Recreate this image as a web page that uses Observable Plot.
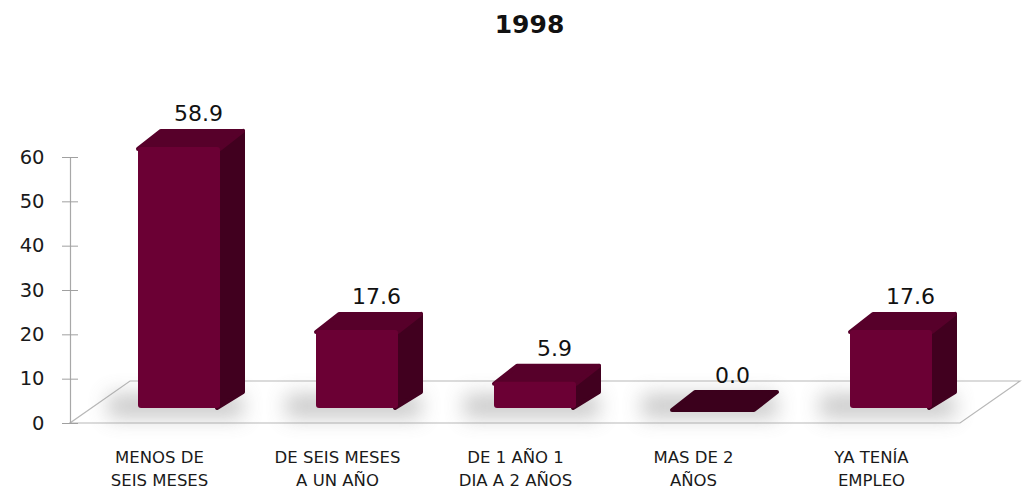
<!DOCTYPE html>
<html><head><meta charset="utf-8">
<script src="https://cdn.jsdelivr.net/npm/d3@7"></script>
<script src="https://cdn.jsdelivr.net/npm/@observablehq/plot@0.6"></script>
<style>body{margin:0;background:#fff;overflow:hidden}</style>
</head><body><div id="chart"></div>
<script>
const categories = ["MENOS DE\nSEIS MESES", "DE SEIS MESES\nA UN AÑO", "DE 1 AÑO 1\nDIA A 2 AÑOS", "MAS DE 2\nAÑOS", "YA TENÍA\nEMPLEO"];
const values = [58.9, 17.6, 5.9, 0.0, 17.6];
const yTicks = [0, 10, 20, 30, 40, 50, 60];
const title = ["1998"];

const data = categories.map((c, i) => ({cat: c, value: values[i]}));

const FRONT_DX = 20, FRONT_DY = -15, DX = 23, DY = 16;
const FLOOR_X = 60, FLOOR_Y = 42;
const FRONT = "#6b0034", SIDE = "#41001f", TOP = "#57002a", FLAT = "#3b001c";
const FONT = "'DejaVu Sans', Verdana, sans-serif";

function floor(index, scales, vals, dim) {
  const x0 = dim.marginLeft, x1 = dim.width - dim.marginRight, y0 = dim.height - dim.marginBottom;
  const g = d3.create("svg:g");
  g.append("path")
    .attr("d", `M${x0},${y0}L${x1},${y0}L${x1 + FLOOR_X},${y0 - FLOOR_Y}L${x0 + FLOOR_X},${y0 - FLOOR_Y}Z`)
    .attr("fill", "#fff").attr("stroke", "#b8b8b8").attr("stroke-width", 1.2);
  return g.node();
}

function shadows(index, scales) {
  const {x, y} = scales, bw = x.bandwidth();
  const g = d3.create("svg:g");
  const f = g.append("defs").append("filter").attr("id", "blurShadow")
    .attr("x", "-50%").attr("y", "-100%").attr("width", "200%").attr("height", "300%");
  f.append("feGaussianBlur").attr("stdDeviation", 10);
  data.forEach(d => {
    const xl = x(d.cat) + FRONT_DX, yb = y(0) + FRONT_DY;
    g.append("rect")
      .attr("x", xl - 30).attr("y", yb - 14)
      .attr("width", bw + DX + 30).attr("height", 24)
      .attr("fill", "#8a8a8a").attr("opacity", 0.45)
      .attr("filter", "url(#blurShadow)");
  });
  return g.node();
}

function boxes(index, scales) {
  const {x, y} = scales, bw = x.bandwidth();
  const g = d3.create("svg:g");
  data.forEach(d => {
    const xl = x(d.cat) + FRONT_DX, xr = xl + bw;
    const yb = y(0) + FRONT_DY, yt = y(d.value) + FRONT_DY;
    if (yb - yt > 0.5) {
      g.append("path")
        .attr("d", `M${xr - 3},${yt}L${xr + DX},${yt - DY}L${xr + DX},${yb - DY}L${xr - 3},${yb}Z`)
        .attr("fill", SIDE).attr("stroke", SIDE).attr("stroke-linejoin", "round").attr("stroke-width", 4);
    }
    g.append("path")
      .attr("d", `M${xl},${yt + 2}L${xl + DX},${yt - DY}L${xr + DX},${yt - DY}L${xr},${yt + 2}Z`)
      .attr("fill", d.value > 0 ? TOP : FLAT)
      .attr("stroke", d.value > 0 ? TOP : FLAT).attr("stroke-linejoin", "round").attr("stroke-width", 4);
  });
  return g.node();
}

const chart = Plot.plot({
  width: 1024,
  height: 492,
  marginTop: 157,
  marginBottom: 69,
  marginLeft: 70,
  marginRight: 64,
  style: {fontFamily: FONT, background: "#fff"},
  x: {type: "band", domain: categories, paddingInner: 0.54, paddingOuter: 0.27, label: null},
  y: {domain: [0, 60], label: null},
  marks: [
    floor,
    shadows,
    Plot.frame({anchor: "left", stroke: "#a8a8a8", strokeWidth: 1.2}),
    Plot.axisY(yTicks, {tickSize: 16, dx: 8, tickPadding: 18, fontSize: 19.5, stroke: "#a0a0a0", fill: "#1a1a1a", label: null}),
    Plot.axisX({tickSize: 0, tickPadding: 24, fontSize: 16.5, lineHeight: 1.35, fill: "#1a1a1a", label: null}),
    boxes,
    Plot.barY(data, {x: "cat", y: "value", dx: FRONT_DX, dy: FRONT_DY, fill: FRONT, rx: 3}),
    Plot.text(data, {x: "cat", y: "value", text: d => d.value.toFixed(1), dx: 39, dy: FRONT_DY - 26, lineAnchor: "bottom", fontSize: 22, fill: "#111"}),
    Plot.text(title, {frameAnchor: "top", text: d => d, dx: 14, dy: -142, fontSize: 25, fontWeight: "bold", fill: "#111"})
  ]
});
document.getElementById("chart").append(chart);
</script>
</body></html>
